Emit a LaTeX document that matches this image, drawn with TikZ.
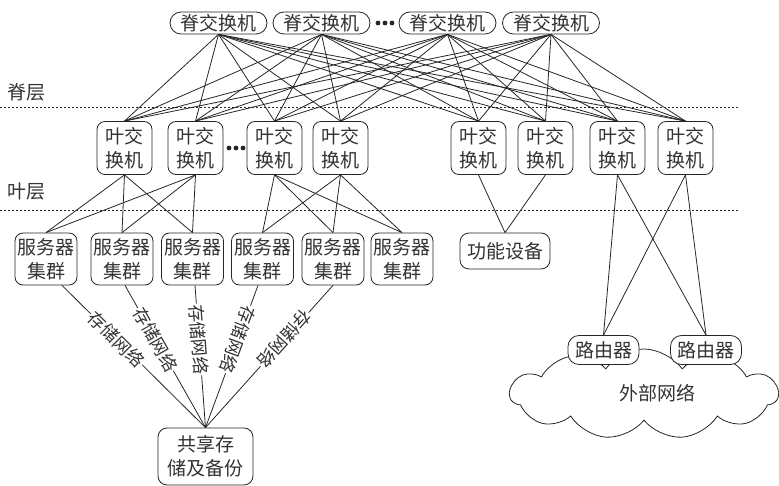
\documentclass[tikz,border=0pt]{standalone}
\usepackage{fontspec}
\newfontfamily\cjk{Noto Sans CJK SC}
\usetikzlibrary{shapes.symbols}
\begin{document}
\begin{tikzpicture}[x=1pt,y=-1pt,
  every node/.style={font=\cjk\fontsize{19}{24}\selectfont, text=black!80, inner sep=0pt},
  spinebox/.style={draw=black!85, line width=0.8pt, rounded corners=11pt, minimum width=97pt, minimum height=22pt, fill=white},
  leafbox/.style={draw=black!85, line width=0.8pt, rounded corners=8pt, minimum width=55pt, minimum height=53pt, align=center, fill=white},
  serverbox/.style={draw=black!85, line width=0.8pt, rounded corners=8pt, minimum width=62pt, minimum height=52pt, align=center, fill=white},
  devbox/.style={draw=black!85, line width=0.8pt, rounded corners=9pt, minimum width=90pt, minimum height=36pt, fill=white},
  routerbox/.style={draw=black!85, line width=0.8pt, rounded corners=11pt, minimum width=71pt, minimum height=29pt, fill=white},
  storebox/.style={draw=black!85, line width=0.8pt, rounded corners=9pt, minimum width=95pt, minimum height=57pt, align=center, fill=white},
  link/.style={draw=black!85, line width=0.8pt},
  sep/.style={draw=black!85, line width=0.8pt, dash pattern=on 2.2pt off 1.8pt},
  netlabel/.style={sloped, allow upside down, fill=white, inner sep=1pt, pos=0.38, font=\cjk\fontsize{17.5}{20}\selectfont},
  dotc/.style={fill=black!85}
]
\useasboundingbox (0,0) rectangle (779,486);

% layer separators
\coordinate (sepA1) at (0,107);
\coordinate (sepA2) at (738,107);
\coordinate (sepB1) at (0,210);
\coordinate (sepB2) at (738,210);
\draw[sep] (sepA1) -- (sepA2);
\draw[sep] (sepB1) -- (sepB2);
\node (lblspine) at (27,92) {脊层};
\node (lblleaf) at (27,192) {叶层};

% cloud
\node[cloud, cloud puffs=11, cloud puff arc=110, aspect=2.9, draw=black!85, line width=0.8pt, minimum width=268pt, minimum height=90pt] (cloud) at (644,394) {};
\node (extnet) at (657,393) {外部网络};

% spine switches
\node[spinebox] (sp1) at (218.5,23) {脊交换机};
\node[spinebox] (sp2) at (321.5,23) {脊交换机};
\node[spinebox] (sp3) at (447.5,23) {脊交换机};
\node[spinebox] (sp4) at (551,23) {脊交换机};
\foreach \x in {378,385,392} \fill[dotc] (\x,23) circle (2.4pt);

% leaf switches
\node[leafbox] (lf1) at (124.5,148) {叶交\\换机};
\node[leafbox] (lf2) at (195.5,148) {叶交\\换机};
\node[leafbox] (lf3) at (274.5,148) {叶交\\换机};
\node[leafbox] (lf4) at (340.5,148) {叶交\\换机};
\node[leafbox] (lf5) at (478.5,148) {叶交\\换机};
\node[leafbox] (lf6) at (545.5,148) {叶交\\换机};
\node[leafbox] (lf7) at (617.5,148) {叶交\\换机};
\node[leafbox] (lf8) at (685.5,148) {叶交\\换机};
\foreach \x in {229,236,243} \fill[dotc] (\x,148) circle (2.4pt);

% server clusters
\node[serverbox] (sv1) at (46,259) {服务器\\集群};
\node[serverbox] (sv2) at (122,259) {服务器\\集群};
\node[serverbox] (sv3) at (192.5,259) {服务器\\集群};
\node[serverbox] (sv4) at (262.5,259) {服务器\\集群};
\node[serverbox] (sv5) at (333,259) {服务器\\集群};
\node[serverbox] (sv6) at (402,259) {服务器\\集群};

\node[devbox] (dev) at (505,251) {功能设备};

\node[routerbox] (rt1) at (603.5,350) {路由器};
\node[routerbox] (rt2) at (706,350) {路由器};

\node[storebox] (store) at (205.5,456.5) {共享存\\储及备份};

% spine-leaf full mesh
\foreach \s in {1,...,4}
  \foreach \l in {1,...,8}
    \draw[link] (sp\s.south) -- (lf\l.north);

% leaf-server
\foreach \l in {1,2}
  \foreach \v in {1,2,3}
    \draw[link] (lf\l.south) -- (sv\v.north);
\foreach \l in {3,4}
  \foreach \v in {4,5,6}
    \draw[link] (lf\l.south) -- (sv\v.north);

% leaf-device, leaf-router
\draw[link] (lf5.south) -- (dev.north);
\draw[link] (lf6.south) -- (dev.north);
\foreach \l in {7,8}
  \foreach \r in {1,2}
    \draw[link] (lf\l.south) -- (rt\r.north);

% storage network
\draw[link] ([xshift=16pt]sv1.south) -- node[netlabel] (n1) {存储网络} (store.north);
\draw[link] ([xshift=3pt]sv2.south) -- node[netlabel] (n2) {存储网络} (store.north);
\draw[link] ([xshift=2.5pt]sv3.south) -- node[netlabel] (n3) {存储网络} (store.north);
\draw[link] ([xshift=-4.5pt]sv4.south) -- node[netlabel] (n4) {存储网络} (store.north);
\draw[link] (sv5.south) -- node[netlabel] (n5) {存储网络} (store.north);
\end{tikzpicture}
\end{document}
